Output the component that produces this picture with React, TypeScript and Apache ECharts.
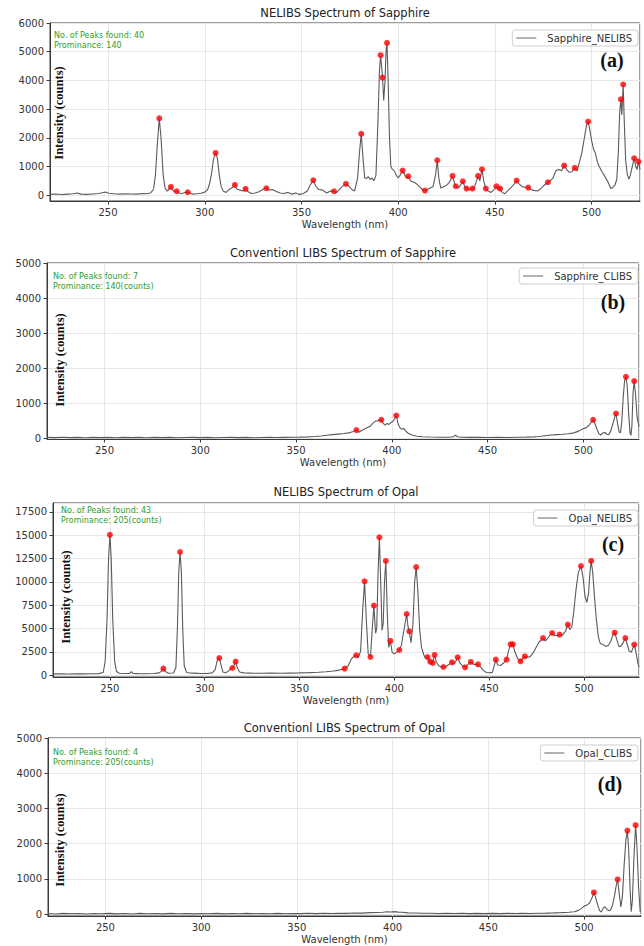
import { useEffect, useRef } from "react";
import * as echarts from "echarts";

// ---------- data (wavelength nm, intensity counts) ----------
const sapphireNelibs: [number, number][] = [
  [220,30],[223,45],[226,25],[229,40],[232,55],[234,80],[236,40],[239,30],[242,45],[245,60],[247,85],[248.6,110],[250.5,70],[253,50],[256,40],[259,55],[262,45],[265,40],[268,60],[270,50],[272,80],[273.5,200],[274.5,700],[275.5,1800],[276.5,2680],[277.5,1900],[278.5,700],[279.5,250],[280.5,150],[281.5,200],[282.5,290],[283.5,180],[284.5,120],[285.5,140],[286.5,80],[288,60],[289.5,90],[291.2,105],[292.5,60],[294,40],[296,50],[298,70],[300,110],[301.5,200],[302.5,400],[303.5,750],[304.5,1250],[305.6,1475],[306.5,1300],[307.5,700],[308.5,300],[309.5,150],[311,100],[312.5,200],[314,250],[315.6,360],[316.5,220],[318,180],[320,150],[321.1,220],[322.5,120],[324,60],[326,80],[328,120],[330,200],[331.8,245],[333,180],[335,200],[337,130],[339,80],[341,60],[343,100],[345,40],[347,80],[349,30],[351,60],[353,150],[354.5,350],[356.1,523],[357.5,300],[359,200],[361,180],[363,80],[365,150],[366.8,140],[368,80],[369.5,200],[371,300],[373,395],[374.5,320],[376,200],[377.5,150],[379,600],[380,1500],[380.9,2137],[381.8,1300],[382.7,600],[383.5,580],[384.5,650],[385.5,550],[386.5,600],[387.5,500],[388.5,700],[389.5,2500],[390.3,4300],[390.9,4878],[391.4,4500],[391.9,4100],[392.5,3300],[393.2,4000],[393.7,5000],[394.2,5307],[394.8,4000],[395.5,2000],[396.2,1000],[397,900],[398,850],[399,700],[400,600],[401,700],[402.3,860],[403.5,700],[404.3,600],[405.2,662],[406.5,500],[408,450],[409.5,400],[411,300],[412.5,200],[413.8,163],[415,200],[416.5,250],[418,300],[419.3,700],[420.2,1220],[421,600],[422,250],[423.5,300],[425,350],[426.5,450],[428.1,673],[429,450],[429.8,314],[431,250],[432.2,350],[433.4,488],[434.4,300],[435.3,233],[436.8,180],[438.4,233],[439.5,300],[440.5,500],[441.3,673],[442.2,500],[443.3,906],[444.2,500],[445.3,233],[446.5,150],[448,100],[449.5,200],[450.8,314],[451.7,200],[452.7,233],[453.7,100],[455,50],[456.5,150],[458,250],[459.5,350],[461.2,512],[462.5,400],[464,300],[465.5,280],[467.2,268],[468.5,200],[470,170],[472,150],[474,250],[475.5,350],[477.4,453],[478.5,500],[480,600],[481.5,850],[483,900],[484.5,850],[485.8,1035],[487,900],[488.5,800],[489.8,820],[491.3,951],[492.5,850],[493.5,1100],[495,1500],[496.5,2100],[497.4,2450],[498.2,2568],[499,2300],[500,1900],[501,1600],[502,1450],[503,1150],[504,990],[505.5,800],[507,640],[508.5,450],[510,230],[511,280],[512,350],[513,550],[513.8,1500],[514.5,2900],[515.1,3345],[515.6,2800],[516.3,3857],[516.9,2500],[517.6,1200],[518.5,700],[519.3,560],[520,700],[521,1000],[522,1289],[522.8,1000],[523.5,900],[524.2,1174],[525,900]
];
const sapphireNelibsPeaks: [number, number][] = [
  [276.5,2680],[282.5,290],[285.5,140],[291.2,105],[305.6,1475],[315.6,360],[321.1,220],[331.8,245],[356.1,523],[366.8,140],[373,395],[380.9,2137],[390.9,4878],[391.9,4100],[394.2,5307],[402.3,860],[405.2,662],[413.8,163],[420.2,1220],[428.1,673],[429.8,314],[433.4,488],[435.3,233],[438.4,233],[441.3,673],[443.3,906],[445.3,233],[450.8,314],[452.7,233],[461.2,512],[467.2,268],[477.4,453],[485.8,1035],[491.3,951],[498.2,2568],[515.1,3345],[516.3,3857],[522,1289],[524.2,1174]
];

const sapphireClibs: [number, number][] = [
  [220,20],[224,15],[228,25],[232,15],[236,20],[240,12],[244,22],[248,15],[252,20],[256,12],[260,20],[264,15],[268,22],[272,12],[276,20],[280,15],[284,22],[288,12],[292,18],[296,22],[300,15],[304,20],[308,12],[312,18],[316,22],[320,15],[324,20],[328,12],[332,18],[336,22],[340,18],[344,22],[348,25],[352,28],[356,35],[360,45],[363,60],[366,80],[369,100],[372,115],[375,130],[377.5,150],[379.5,180],[381.5,229],[382.8,170],[384.2,220],[385.7,260],[387.2,300],[388.7,340],[390,420],[391.3,480],[392.8,500],[394.5,523],[395.5,420],[396.5,370],[397.5,420],[398.5,390],[399.5,440],[400.6,480],[401.5,560],[402.3,646],[403.2,420],[404.2,300],[405.2,250],[406.2,280],[407.3,200],[408.5,140],[410.5,90],[413,55],[416,40],[420,30],[425,25],[430,25],[432.3,40],[433.2,85],[434.2,40],[436.5,25],[440,20],[445,25],[450,18],[455,22],[460,18],[465,24],[470,28],[474,35],[477,45],[480,70],[483,90],[486,100],[489,110],[492,125],[495,150],[497.5,200],[499.5,260],[501.5,300],[502.8,360],[504,450],[505.1,523],[506,420],[507,260],[508,130],[509,90],[510.2,150],[511.2,160],[512.2,110],[513.2,100],[514.2,200],[515.2,380],[516.2,580],[517,703],[517.8,420],[518.6,180],[519.3,150],[520,450],[520.8,1200],[521.5,1650],[522.2,1751],[522.9,1450],[523.6,700],[524.3,150],[524.8,80],[525.3,350],[525.9,1300],[526.5,1629],[527.2,1250],[528,600],[529,330]
];
const sapphireClibsPeaks: [number, number][] = [
  [381.5,229],[394.5,523],[402.3,646],[505.1,523],[517,703],[522.2,1751],[526.5,1629]
];

const opalNelibs: [number, number][] = [
  [220,150],[224,170],[228,140],[232,160],[236,150],[240,170],[244,180],[246.5,300],[247.5,1500],[248.5,6000],[249.3,12500],[250,15050],[250.7,12500],[251.5,6000],[252.5,1500],[253.5,400],[255,220],[258,190],[260.5,200],[261.3,400],[262.2,200],[265,180],[269,170],[273,190],[276,260],[277.2,450],[278.2,715],[279.2,400],[281,220],[283.5,250],[284.8,800],[285.6,5000],[286.3,11000],[287,13210],[287.7,11000],[288.4,5000],[289.2,1000],[290.5,300],[293,230],[297,210],[301,200],[304,260],[305.5,600],[306.6,1600],[307.7,1857],[308.6,1100],[309.6,350],[311,280],[312.5,450],[313.6,700],[314.6,786],[315.3,1000],[316.3,1465],[317.2,800],[318.4,350],[320.5,260],[325,230],[330,220],[335,230],[340,220],[345,240],[350,260],[355,290],[360,330],[364,380],[368,460],[371,560],[373.8,715],[375.6,1000],[377.2,1700],[378.5,2000],[379.9,2143],[381,1900],[382.2,2600],[383.3,7000],[384.3,10070],[385.2,6000],[386.2,2300],[387.4,1965],[388.3,4800],[389.2,7465],[390.1,4500],[390.7,5000],[391.4,11000],[392.1,14786],[392.8,10000],[393.5,4800],[394.1,5500],[394.8,10000],[395.5,12250],[396.3,6500],[397,3000],[397.9,3680],[398.8,2500],[400,2300],[401.3,2500],[402.6,2714],[403.7,3200],[405,4800],[406.5,6570],[407.2,5200],[407.9,4715],[408.8,3500],[409.8,5500],[410.7,10000],[411.5,11600],[412.4,9000],[413.3,5000],[414.3,3000],[415.5,2200],[416.5,1800],[417.5,1965],[418.3,1600],[418.9,1465],[419.6,1300],[420.2,1320],[421.2,2180],[422.2,1400],[423.5,1000],[424.8,900],[425.9,890],[427.2,950],[428.8,1150],[430.4,1390],[431.5,1200],[432.4,1500],[433.4,1930],[434.6,1300],[436,1000],[437.3,857],[438.8,1150],[440.3,1430],[441.6,1200],[443,1150],[444.1,1180],[445.5,900],[447,500],[448.5,300],[450,270],[451.7,320],[452.6,1000],[453.5,1680],[454.5,1100],[456,1050],[457.8,1350],[459.2,1680],[460.3,2700],[461.3,3320],[461.9,3150],[462.5,3320],[463.6,2500],[465,1800],[466.5,1500],[467.7,1800],[468.8,2036],[470,1900],[471.6,2000],[473.2,2400],[474.8,3000],[476.4,3600],[477.4,3750],[478.4,4000],[479.6,3700],[481,4000],[482.2,4350],[483.2,4536],[484.5,4250],[486,4300],[487.1,4357],[488.6,4300],[490.2,4700],[491.5,5430],[492.5,4900],[493.6,5200],[494.6,6800],[495.8,9200],[497,11000],[498.4,11710],[499.5,10500],[500.5,8500],[501.5,7800],[502.4,8800],[503.2,11200],[503.8,12250],[504.6,11000],[505.6,8200],[506.6,5800],[507.6,4100],[508.6,3400],[510,3300],[511.5,3100],[512.8,3200],[514,3600],[515.2,4300],[516.2,4570],[517.2,3900],[518.4,3100],[519.4,3100],[520.6,3500],[521.8,4000],[522.8,3300],[523.8,2600],[525,2500],[526.5,3290],[527.4,2500],[528.3,1400],[529,900]
];
const opalNelibsPeaks: [number, number][] = [
  [250,15050],[278.2,715],[287,13210],[307.7,1857],[314.6,786],[316.3,1465],[373.8,715],[379.9,2143],[384.3,10070],[387.4,1965],[389.2,7465],[392.1,14786],[395.5,12250],[397.9,3680],[402.6,2714],[406.5,6570],[407.9,4715],[411.5,11600],[417.5,1965],[418.9,1465],[420.2,1320],[421.2,2180],[425.9,890],[430.4,1390],[433.4,1930],[437.3,857],[440.3,1430],[444.1,1180],[453.5,1680],[459.2,1680],[461.3,3320],[462.5,3320],[466.5,1500],[468.8,2036],[478.4,4000],[483.2,4536],[487.1,4357],[491.5,5430],[498.4,11710],[503.8,12250],[516.2,4570],[521.8,4000],[526.5,3290]
];

const opalClibs: [number, number][] = [
  [220,20],[224,8],[228,25],[232,12],[236,20],[240,8],[244,22],[248,12],[252,25],[256,10],[260,20],[264,8],[268,24],[272,12],[276,20],[280,10],[284,24],[288,12],[292,22],[296,10],[300,20],[304,12],[308,25],[312,10],[316,22],[320,14],[324,25],[328,12],[332,22],[336,15],[340,25],[344,15],[348,22],[352,18],[356,26],[360,18],[364,28],[368,22],[372,30],[376,25],[380,35],[384,32],[388,45],[392,50],[395,58],[397,70],[399,62],[401,75],[403,60],[405,55],[408,40],[412,35],[416,28],[420,30],[424,22],[428,28],[432,20],[436,26],[440,18],[444,25],[448,18],[452,24],[456,18],[460,25],[464,20],[468,26],[472,22],[476,30],[480,32],[484,38],[488,45],[492,55],[495,70],[497,110],[498.5,160],[500,230],[501.5,260],[502.8,320],[504,450],[505.1,618],[506,480],[507,280],[508,110],[509,60],[510,180],[510.8,210],[511.8,150],[512.8,100],[513.8,120],[514.8,250],[515.8,500],[516.7,800],[517.5,988],[518.3,600],[519.2,210],[520,500],[520.9,1400],[521.8,2100],[522.6,2373],[523.3,1800],[524,700],[524.6,70],[525.2,400],[526,1600],[526.9,2527],[527.6,1900],[528.4,800],[529.3,60]
];
const opalClibsPeaks: [number, number][] = [
  [505.1,618],[517.5,988],[522.6,2373],[526.9,2527]
];

const titles = [
  "NELIBS Spectrum of Sapphire",
  "Conventionl LIBS Spectrum of Sapphire",
  "NELIBS Spectrum of Opal",
  "Conventionl LIBS Spectrum of Opal",
];
const seriesNames = ["Sapphire_NELIBS", "Sapphire_CLIBS", "Opal_NELIBS", "Opal_CLIBS"];
const notes = [
  ["No. of Peaks found: 40", "Prominance: 140"],
  ["No. of Peaks found: 7", "Prominance: 140(counts)"],
  ["No. of Peaks found: 43", "Prominance: 205(counts)"],
  ["No. of Peaks found: 4", "Prominance: 205(counts)"],
];
const letters = ["(a)", "(b)", "(c)", "(d)"];
const xExtents = [[220, 525], [220, 529], [220, 529], [220, 529.7]];
const yExtents = [[-200, 6000], [-25, 5000], [-180, 18460], [-50, 5000]];
const yTickSteps = [1000, 1000, 2500, 1000];
const xTickStep = 50;
const xLabel = "Wavelength (nm)";
const yLabel = "Intensity (counts)";

const lines = [sapphireNelibs, sapphireClibs, opalNelibs, opalClibs];
const peaks = [sapphireNelibsPeaks, sapphireClibsPeaks, opalNelibsPeaks, opalClibsPeaks];

// ---------- layout ----------
const layout = [
  { left: 50, top: 23, width: 590, height: 178, titleY: 13, legendTop: 30, noteX: 54, noteY: 35, letter: [612, 60], ylab: [59, 113] },
  { left: 47, top: 263, width: 592, height: 176, titleY: 253, legendTop: 268, noteX: 53, noteY: 276, letter: [613, 302], ylab: [60, 360] },
  { left: 53, top: 503, width: 586, height: 174, titleY: 492, legendTop: 510, noteX: 61, noteY: 510, letter: [613, 544], ylab: [66, 597] },
  { left: 48, top: 738, width: 593, height: 178, titleY: 728, legendTop: 745, noteX: 53, noteY: 752, letter: [610, 784], ylab: [60, 840] },
];

const FONT = "'DejaVu Sans', sans-serif";
const SERIF = "'Liberation Serif', 'Times New Roman', serif";

function buildOption() {
  const grid: any[] = [];
  const xAxis: any[] = [];
  const yAxis: any[] = [];
  const series: any[] = [];
  const legend: any[] = [];
  const graphic: any[] = [];

  layout.forEach((L, i) => {
    grid.push({
      left: L.left, top: L.top, width: L.width, height: L.height,
      show: true, borderColor: "#3a3a3a", borderWidth: 1, backgroundColor: "#fff",
      containLabel: false, outerBoundsMode: "none",
    });
    xAxis.push({
      type: "value", gridIndex: i, min: xExtents[i][0], max: xExtents[i][1],
      minInterval: xTickStep, maxInterval: xTickStep,
      name: xLabel, nameLocation: "middle", nameGap: 18,
      nameTextStyle: { fontFamily: FONT, fontSize: 10, color: "#333" },
      axisLine: { show: true, onZero: false, lineStyle: { color: "#3a3a3a", width: 1 } },
      axisTick: { show: true, length: 3.5, lineStyle: { color: "#3a3a3a" } },
      axisLabel: { fontFamily: FONT, fontSize: 10, color: "#333", margin: 6, showMinLabel: false, showMaxLabel: false, formatter: (v: number) => String(v) },
      splitLine: { show: true, lineStyle: { color: "#e6e6e6", width: 1 } },
    });
    const yMaxIsTick = yExtents[i][1] % yTickSteps[i] === 0;
    yAxis.push({
      type: "value", gridIndex: i, min: yExtents[i][0], max: yExtents[i][1],
      minInterval: yTickSteps[i], maxInterval: yTickSteps[i], splitNumber: 8,
      axisLine: { show: true, onZero: false, lineStyle: { color: "#3a3a3a", width: 1 } },
      axisTick: { show: true, length: 3.5, lineStyle: { color: "#3a3a3a" } },
      axisLabel: { fontFamily: FONT, fontSize: 10, color: "#333", margin: 6, showMinLabel: false, showMaxLabel: yMaxIsTick, formatter: (v: number) => String(v) },
      splitLine: { show: true, lineStyle: { color: "#e6e6e6", width: 1 } },
    });
    series.push({
      name: seriesNames[i], type: "line", xAxisIndex: i, yAxisIndex: i,
      data: lines[i], symbol: "none", showSymbol: false,
      lineStyle: { color: "#5a5a5a", width: 1.1 }, itemStyle: { color: "#5a5a5a" },
      z: 2,
    });
    series.push({
      name: "peaks_" + i, type: "scatter", xAxisIndex: i, yAxisIndex: i,
      data: peaks[i], symbol: "circle", symbolSize: 6,
      itemStyle: { color: "#ff0000" }, z: 3,
    });
    legend.push({
      data: [seriesNames[i]], right: 6, top: L.legendTop,
      orient: "horizontal", padding: [3, 6, 3, 4],
      itemWidth: 20, itemHeight: 10,
      icon: "path://M0,4.5 L20,4.5 L20,5.5 L0,5.5 Z",
      itemStyle: { color: "#666" },
      borderColor: "#cfcfcf", borderWidth: 1, borderRadius: 3,
      backgroundColor: "rgba(255,255,255,0.9)",
      textStyle: { fontFamily: FONT, fontSize: 10, color: "#333", padding: [0, 0, 0, 6] },
      selectedMode: false,
    });
    const cx = L.left + L.width / 2;
    graphic.push({
      type: "text", x: cx, y: L.titleY,
      style: { text: titles[i], font: `11.5px ${FONT}`, fill: "#222", textAlign: "center", textVerticalAlign: "middle", align: "center", verticalAlign: "middle" },
    });
    notes[i].forEach((t, k) => {
      graphic.push({
        type: "text", x: L.noteX, y: L.noteY + k * 10.5, z: 10,
        style: { text: t, font: `8px ${FONT}`, fill: "#2ca02c", textAlign: "left", textVerticalAlign: "middle", align: "left", verticalAlign: "middle" },
      });
    });
    graphic.push({
      type: "text", x: L.letter[0], y: L.letter[1], z: 10,
      style: { text: letters[i], font: `bold 20px ${SERIF}`, fill: "#111", textAlign: "center", textVerticalAlign: "middle", align: "center", verticalAlign: "middle" },
    });
    graphic.push({
      type: "text", x: L.ylab[0], y: L.ylab[1], rotation: Math.PI / 2, z: 10,
      style: { text: yLabel, font: `bold 12.5px ${SERIF}`, fill: "#111", textAlign: "center", textVerticalAlign: "middle", align: "center", verticalAlign: "middle" },
    });
  });

  return { animation: false, backgroundColor: "#fff", grid, xAxis, yAxis, series, legend, graphic };
}

export default function App() {
  const ref = useRef<HTMLDivElement>(null);
  useEffect(() => {
    if (!ref.current) return;
    const chart = echarts.init(ref.current, null, { renderer: "svg" });
    chart.setOption(buildOption() as any);
    return () => chart.dispose();
  }, []);
  return (
    <div
      ref={ref}
      style={{ position: "absolute", left: 0, top: 0, width: 644, height: 946, background: "#fff" }}
    />
  );
}
